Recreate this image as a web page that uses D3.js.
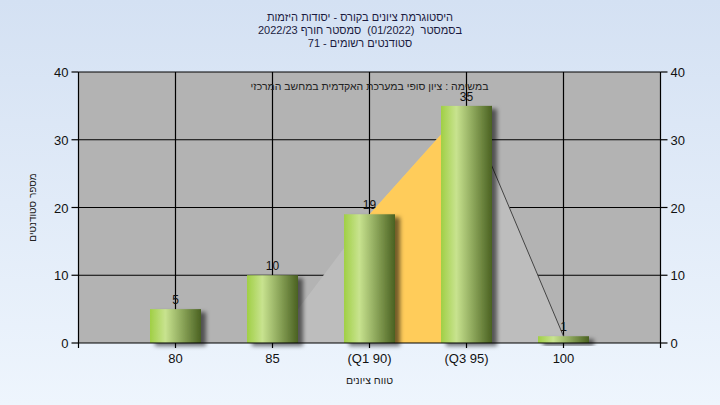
<!DOCTYPE html>
<html><head><meta charset="utf-8">
<script src="https://cdn.jsdelivr.net/npm/d3@7"></script>
<style>body{margin:0;padding:0;overflow:hidden}svg{display:block}text{white-space:pre}</style>
</head><body>
<script>
const categories = ["80", "85", "(Q1 90)", "(Q3 95)", "100"];
const counts = [5, 10, 19, 35, 1];
const areaValues = [0, 0, 19, 35, 1];
const yTicks = [0, 10, 20, 30, 40];
const titleLines = ["היסטוגרמת ציונים בקורס - יסודות היזמות", "בסמסטר  (01/2022)  סמסטר חורף 2022/23", "סטודנטים רשומים - 71"];
const subTitle = "במשימה : ציון סופי במערכת האקדמית במחשב המרכזי";
const xTitle = "טווח ציונים";
const yTitle = "מספר סטודנטים";

const W = 720, H = 405;
const m = {l: 78.5, r: 660.5, t: 72, b: 343};
const font = "'Liberation Sans', Arial, sans-serif";
const svg = d3.select("body").append("svg").attr("width", W).attr("height", H);
const defs = svg.append("defs");
const bg = defs.append("linearGradient").attr("id", "bg").attr("x1", 0).attr("y1", 0).attr("x2", 0).attr("y2", 1);
bg.append("stop").attr("offset", 0).attr("stop-color", "#d4e1f3");
bg.append("stop").attr("offset", 1).attr("stop-color", "#eef5fd");
const bar = defs.append("linearGradient").attr("id", "bar").attr("x1", 0).attr("y1", 0).attr("x2", 1).attr("y2", 0);
[[0, "#a0cf45"], [0.3, "#c8e38f"], [0.62, "#8ea85c"], [1, "#4a6121"]].forEach(([o, c]) => bar.append("stop").attr("offset", o).attr("stop-color", c));
const f = defs.append("filter").attr("id", "sh").attr("x", "-20%").attr("y", "-20%").attr("width", "150%").attr("height", "150%");
f.append("feDropShadow").attr("dx", 5).attr("dy", 3).attr("stdDeviation", 2.2).attr("flood-color", "#000").attr("flood-opacity", 0.55);
const clipL = defs.append("clipPath").attr("id", "plotclip");

svg.append("rect").attr("width", W).attr("height", H).attr("fill", "url(#bg)");

const x = d3.scaleLinear().domain([0, categories.length + 1]).range([m.l, m.r]);
const xc = i => x(i + 1);
const y = d3.scaleLinear().domain([0, 40]).range([m.b, m.t]);

svg.append("rect").attr("x", m.l).attr("y", m.t).attr("width", m.r - m.l).attr("height", m.b - m.t).attr("fill", "#b3b3b3");

// grid
const g = svg.append("g").attr("stroke", "#000").attr("stroke-width", 1.2);
yTicks.slice(1).forEach(v => g.append("line").attr("x1", m.l).attr("x2", m.r).attr("y1", y(v)).attr("y2", y(v)));
categories.forEach((c, i) => g.append("line").attr("x1", xc(i)).attr("x2", xc(i)).attr("y1", m.t).attr("y2", m.b));

// area
const pts = areaValues.map((v, i) => [xc(i), y(v)]);
const area = d3.area().x(d => d[0]).y0(y(0)).y1(d => d[1]);
svg.append("path").attr("d", area(pts)).attr("fill", "#bdbdbd");
clipL.append("rect").attr("x", xc(2)).attr("y", m.t).attr("width", xc(3) - xc(2)).attr("height", m.b - m.t);
svg.append("path").attr("d", area(pts)).attr("fill", "#ffcc5a").attr("clip-path", "url(#plotclip)");
svg.append("path").attr("d", d3.line()(pts.slice(3))).attr("stroke", "#444").attr("stroke-width", 1).attr("fill", "none");

// bars
const bw = 51;
svg.append("g").selectAll("rect").data(counts).join("rect")
  .attr("x", (d, i) => xc(i) - bw / 2).attr("width", bw)
  .attr("y", d => y(d)).attr("height", d => y(0) - y(d))
  .attr("fill", "url(#bar)").attr("filter", "url(#sh)");

// subtitle
svg.append("text").attr("x", (m.l + m.r) / 2).attr("y", 90).attr("text-anchor", "middle")
  .attr("font-family", font).attr("font-size", 10.5).attr("fill", "#222").text(subTitle);

// value labels
svg.append("g").selectAll("text").data(counts).join("text")
  .attr("x", (d, i) => xc(i)).attr("y", d => y(d) - 5)
  .attr("text-anchor", "middle").attr("font-family", font).attr("font-size", 12).attr("fill", "#111")
  .text(d => d);

// axes
const ax = svg.append("g").attr("stroke", "#000").attr("stroke-width", 1.2);
ax.append("line").attr("x1", m.l).attr("x2", m.r).attr("y1", m.b).attr("y2", m.b);
ax.append("line").attr("x1", m.l).attr("x2", m.l).attr("y1", m.t).attr("y2", m.b);
ax.append("line").attr("x1", m.r).attr("x2", m.r).attr("y1", m.t).attr("y2", m.b);
yTicks.forEach(v => {
  ax.append("line").attr("x1", m.l - 7).attr("x2", m.l).attr("y1", y(v)).attr("y2", y(v));
  ax.append("line").attr("x1", m.r).attr("x2", m.r + 7).attr("y1", y(v)).attr("y2", y(v));
});
[m.l, ...categories.map((c, i) => xc(i)), m.r].forEach(px => ax.append("line").attr("x1", px).attr("x2", px).attr("y1", m.b).attr("y2", m.b + 5));

const lbl = svg.append("g").attr("font-family", font).attr("font-size", 13).attr("fill", "#111");
yTicks.forEach(v => {
  lbl.append("text").attr("x", m.l - 10).attr("y", y(v) + 5).attr("text-anchor", "end").text(v);
  lbl.append("text").attr("x", m.r + 10).attr("y", y(v) + 5).attr("text-anchor", "start").text(v);
});
categories.forEach((c, i) => lbl.append("text").attr("x", xc(i)).attr("y", m.b + 20).attr("text-anchor", "middle").attr("direction", "ltr").text(c));

svg.append("text").attr("x", (m.l + m.r) / 2).attr("y", 384).attr("text-anchor", "middle")
  .attr("font-family", font).attr("font-size", 10.5).attr("fill", "#222").text(xTitle);
svg.append("text").attr("transform", `translate(36,${(m.t + m.b) / 2}) rotate(-90)`).attr("text-anchor", "middle")
  .attr("font-family", font).attr("font-size", 10).attr("fill", "#222").text(yTitle);
titleLines.forEach((t, i) => svg.append("text").attr("x", 360).attr("y", 21 + i * 13).attr("text-anchor", "middle")
  .attr("font-family", font).attr("font-size", 11).attr("fill", "#1b1b40").text(t));
</script>
</body></html>
